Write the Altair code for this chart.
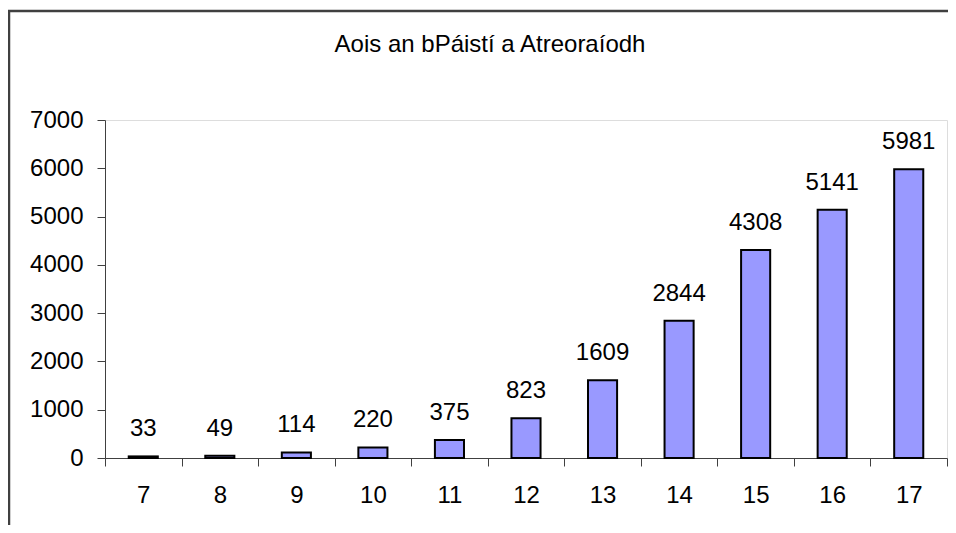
import altair as alt
import pandas as pd

ages = ["7", "8", "9", "10", "11", "12", "13", "14", "15", "16", "17"]
counts = [33, 49, 114, 220, 375, 823, 1609, 2844, 4308, 5141, 5981]
y_ticks = [0, 1000, 2000, 3000, 4000, 5000, 6000, 7000]
title_text = "Aois an bPáistí a Atreoraíodh"

df = pd.DataFrame({"age": ages, "count": counts})

FONT = "Liberation Sans"
W, H = 842, 338

x_enc = alt.X(
    "age:N",
    sort=ages,
    title=None,
    scale=alt.Scale(paddingInner=0, paddingOuter=0),
    axis=alt.Axis(
        labelAngle=0,
        tickBand="extent",
        tickSize=8,
        labelPadding=17,
        labelFontSize=24,
        labelFont=FONT,
        labelColor="#000000",
        domainColor="#404040",
        tickColor="#404040",
        domainWidth=1,
        grid=False,
    ),
)

y_enc = alt.Y(
    "count:Q",
    title=None,
    scale=alt.Scale(domain=[0, 7000], nice=False),
    axis=alt.Axis(
        values=y_ticks,
        format="d",
        tickSize=8,
        labelPadding=14,
        labelFontSize=24,
        labelFont=FONT,
        labelColor="#000000",
        domainColor="#404040",
        tickColor="#404040",
        grid=False,
    ),
)

bars = alt.Chart(df).mark_bar(
    width=alt.RelativeBandSize(0.38),
    color="#9999FF",
    stroke="#000000",
    strokeWidth=2,
).encode(x=x_enc, y=y_enc)

labels = alt.Chart(df).mark_text(
    baseline="alphabetic",
    dy=-20,
    fontSize=24,
    font=FONT,
    color="#000000",
).encode(x=alt.X("age:N", sort=ages), y="count:Q", text="count:Q")

frame = alt.Chart(pd.DataFrame({"f": [0]})).mark_rect(
    fill=None, stroke="#404040", strokeWidth=2.5
).encode(
    x=alt.value(-96), x2=alt.value(W + 60),
    y=alt.value(-109), y2=alt.value(H + 120),
)

chart = alt.layer(frame, bars, labels).properties(
    width=W,
    height=H,
    title=alt.TitleParams(
        text=title_text,
        fontSize=24,
        font=FONT,
        fontWeight="normal",
        color="#000000",
        anchor="middle",
        baseline="alphabetic",
        dx=-36,
        offset=-66,
    ),
    padding={"left": 97, "top": 112, "right": 1, "bottom": 67},
    autosize=alt.AutoSizeParams(type="none"),
).configure_view(
    stroke="#808080", strokeWidth=1.5
).configure(background="#ffffff")

chart.save("out.html", embed_options={"renderer": "svg", "actions": False})
